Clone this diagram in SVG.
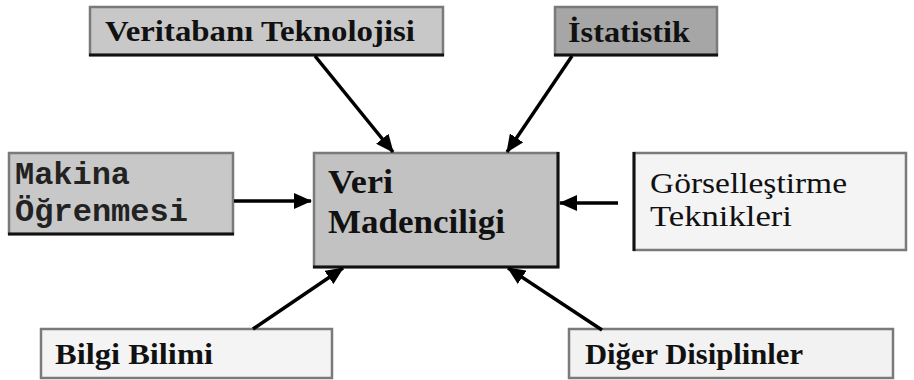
<svg xmlns="http://www.w3.org/2000/svg" width="914" height="380" viewBox="0 0 914 380">
  <style>
    .box { stroke: #7a7a7a; stroke-width: 2.5; }
    .edge { stroke: #111; stroke-width: 3; fill: none; }
    .lbl { font-family: "Liberation Serif", "Times New Roman", serif; font-size: 30px; font-weight: bold; fill: #111; }
    .reg { font-family: "Liberation Serif", "Times New Roman", serif; font-size: 30px; fill: #111; }
    .mono { font-family: "Liberation Mono", "Courier New", monospace; font-size: 31px; font-weight: bold; fill: #222; }
    .link { stroke: #000; stroke-width: 3.5; fill: none; marker-end: url(#head); }
  </style>
  <defs>
    <marker id="head" markerUnits="userSpaceOnUse" markerWidth="18" markerHeight="16" refX="17" refY="8" orient="auto">
      <path d="M0,0 L18,8 L0,16 Z" fill="#000"/>
    </marker>
  </defs>
  <rect width="914" height="380" fill="#ffffff"/>

  <g id="veritabani">
    <rect class="box" x="90" y="7" width="353" height="48" fill="#c8c8c8"/>
    <line class="edge" x1="89" y1="55" x2="444" y2="55"/>
    <text class="lbl" x="105" y="41" textLength="310" lengthAdjust="spacingAndGlyphs">Veritabanı Teknolojisi</text>
  </g>

  <g id="istatistik">
    <rect class="box" x="555" y="7" width="162" height="48" fill="#a6a6a6"/>
    <line class="edge" x1="554" y1="55" x2="718" y2="55"/>
    <text class="lbl" x="568" y="42" textLength="122" lengthAdjust="spacingAndGlyphs">İstatistik</text>
  </g>

  <g id="makina">
    <rect class="box" x="9" y="153" width="224" height="81" fill="#c8c8c8"/>
    <line class="edge" x1="8" y1="234" x2="234" y2="234"/>
    <text class="mono" x="15" y="184" textLength="115" lengthAdjust="spacingAndGlyphs">Makina</text>
    <text class="mono" x="15" y="221" textLength="173" lengthAdjust="spacingAndGlyphs">Öğrenmesi</text>
  </g>

  <g id="veri-madenciligi">
    <rect class="box" x="314" y="153" width="244" height="114" fill="#c2c2c2"/>
    <polyline class="edge" points="313,267 558,267 558,152"/>
    <text class="lbl" x="328" y="193" font-size="34" style="font-size:34px" textLength="65" lengthAdjust="spacingAndGlyphs">Veri</text>
    <text class="lbl" x="328" y="233" style="font-size:34px" textLength="177" lengthAdjust="spacingAndGlyphs">Madenciligi</text>
  </g>

  <g id="gorsellestirme">
    <rect class="box" x="634" y="153" width="272" height="97" fill="#f4f4f4"/>
    <line class="edge" x1="634" y1="152" x2="634" y2="251"/>
    <text class="reg" x="650" y="193" textLength="197" lengthAdjust="spacingAndGlyphs">Görselleştirme</text>
    <text class="reg" x="650" y="226" textLength="142" lengthAdjust="spacingAndGlyphs">Teknikleri</text>
  </g>

  <g id="bilgi-bilimi">
    <rect class="box" x="41" y="329" width="291" height="49" fill="#f4f4f4"/>
    <text class="lbl" x="55" y="364" textLength="158" lengthAdjust="spacingAndGlyphs">Bilgi Bilimi</text>
  </g>

  <g id="diger-disiplinler">
    <rect class="box" x="569" y="329" width="324" height="49" fill="#f2f2f2"/>
    <text class="lbl" x="585" y="364" textLength="218" lengthAdjust="spacingAndGlyphs">Diğer Disiplinler</text>
  </g>

  <g id="connectors">
    <line class="link" x1="315" y1="56" x2="393" y2="152"/>
    <line class="link" x1="572" y1="56" x2="507" y2="152"/>
    <line class="link" x1="234" y1="201" x2="311" y2="201"/>
    <line class="link" x1="618" y1="203" x2="560" y2="203"/>
    <line class="link" x1="253" y1="329" x2="343" y2="268"/>
    <line class="link" x1="602" y1="330" x2="508" y2="268"/>
  </g>
</svg>
